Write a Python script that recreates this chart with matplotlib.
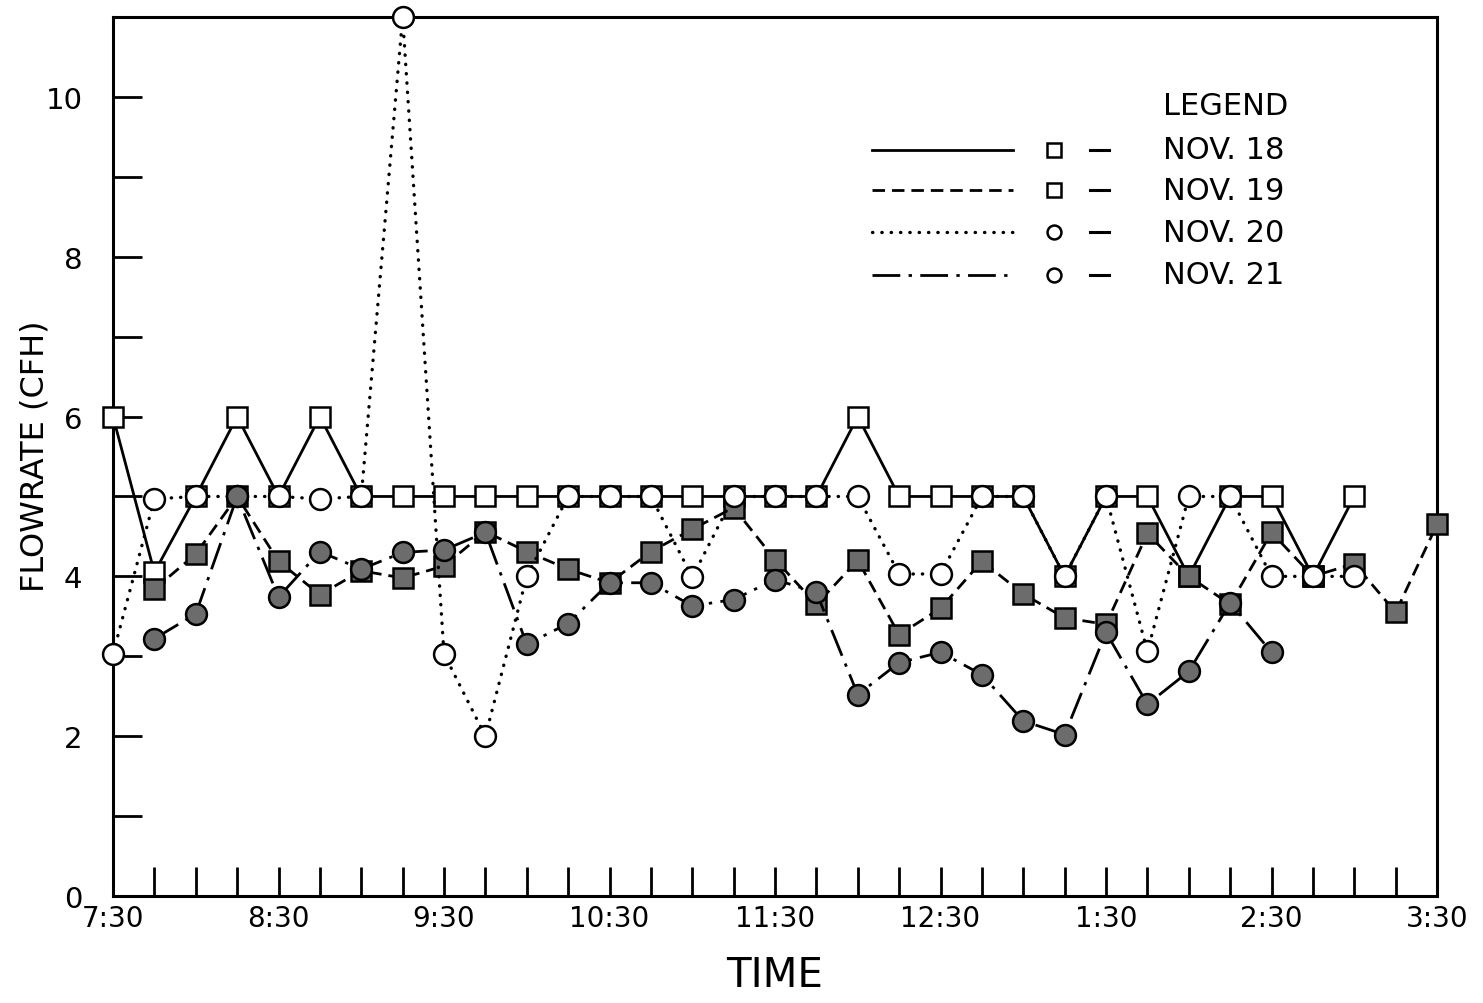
import matplotlib.pyplot as plt
from matplotlib.ticker import MultipleLocator
import numpy as np

# ---------------------------------------------------------
# Data: flowrate readings every 15 minutes (CFH)
# ---------------------------------------------------------
clock = ['7:30', '7:45', '8:00', '8:15', '8:30', '8:45', '9:00', '9:15',
         '9:30', '9:45', '10:00', '10:15', '10:30', '10:45', '11:00', '11:15',
         '11:30', '11:45', '12:00', '12:15', '12:30', '12:45', '1:00', '1:15',
         '1:30', '1:45', '2:00', '2:15', '2:30', '2:45', '3:00', '3:15', '3:30']

nov18_times = clock[0:31]
nov18_flow = [6.0, 4.05, 5.0, 6.0, 5.0, 6.0, 5.0, 5.0, 5.0, 5.0, 5.0,
              5.0, 5.0, 5.0, 5.0, 5.0, 5.0, 5.0, 6.0, 5.0, 5.0, 5.0,
              5.0, 4.0, 5.0, 5.0, 4.0, 5.0, 5.0, 4.0, 5.0]

nov19_times = clock[1:33]
nov19_flow = [3.84, 4.28, 5.0, 4.19, 3.77, 4.07, 3.98, 4.13, 4.56, 4.31,
              4.09, 3.92, 4.31, 4.59, 4.86, 4.21, 3.65, 4.2, 3.27, 3.6,
              4.19, 3.78, 3.48, 3.4, 4.54, 4.0, 3.65, 4.55, 4.0, 4.16,
              3.55, 4.65]

nov20_times = clock[0:31]
nov20_flow = [3.03, 4.97, 5.0, 5.0, 5.0, 4.97, 5.0, 11.0, 3.03, 2.0, 4.0,
              5.0, 5.0, 5.0, 3.99, 5.0, 5.0, 5.0, 5.0, 4.03, 4.03, 5.0,
              5.0, 4.0, 5.0, 3.06, 5.0, 5.0, 4.0, 4.0, 4.0]

nov21_times = clock[1:29]
nov21_flow = [3.22, 3.53, 5.0, 3.74, 4.31, 4.09, 4.3, 4.33, 4.55, 3.15,
              3.41, 3.92, 3.92, 3.63, 3.71, 3.96, 3.8, 2.52, 2.92, 3.05,
              2.77, 2.19, 2.02, 3.3, 2.4, 2.81, 3.67, 3.05]

tick_labels = ['7:30', '8:30', '9:30', '10:30', '11:30', '12:30', '1:30', '2:30', '3:30']
legend_labels = ['NOV. 18', 'NOV. 19', 'NOV. 20', 'NOV. 21']


def to_hours(s):
    h, m = map(int, s.split(':'))
    if h < 7:
        h += 12
    return h + m / 60.0


gray = '#6c6c6c'
lw = 2.0

styles = [
    dict(ls='-', lw=lw, cap='butt', marker='s', mfc='white'),
    dict(ls=(0, (4.5, 2.5)), lw=lw, cap='butt', marker='s', mfc=gray),
    dict(ls=(0, (0.1, 2.7)), lw=2.4, cap='round', marker='o', mfc='white'),
    dict(ls=(0, (10, 3, 1.2, 3)), lw=lw, cap='butt', marker='o', mfc=gray),
]
series = [(nov18_times, nov18_flow), (nov19_times, nov19_flow),
          (nov20_times, nov20_flow), (nov21_times, nov21_flow)]

# ---------------------------------------------------------
# Plot
# ---------------------------------------------------------
fig = plt.figure(figsize=(14.83, 10.04), dpi=100)
ax = fig.add_axes([0.0762, 0.1066, 0.8928, 0.8754])

zorders = [3, 4, 5, 6]
for (t, v), st, z in zip(series, styles, zorders):
    x = [to_hours(s) for s in t]
    ax.plot(x, v, color='black', lw=st['lw'], linestyle=st['ls'],
            dash_capstyle=st['cap'], marker=st['marker'],
            markersize=15, markerfacecolor=st['mfc'], markeredgecolor='black',
            markeredgewidth=1.8, zorder=z, clip_on=False)

ax.set_xlim(7.5, 15.5)
ax.set_ylim(0, 11)

ax.set_xticks([to_hours(s) for s in tick_labels])
ax.set_xticklabels(tick_labels)
ax.xaxis.set_minor_locator(MultipleLocator(0.25))
ax.set_yticks(np.arange(0, 11, 2))
ax.set_yticks([1, 3, 5, 7, 9], minor=True)

ax.tick_params(which='both', direction='in', length=21, width=2.0,
               top=False, right=False)
ax.tick_params(axis='x', labelsize=20, pad=6)
ax.tick_params(axis='y', labelsize=21, pad=22)

for sp in ax.spines.values():
    sp.set_linewidth(2.2)

ax.set_xlabel('TIME', fontsize=29, labelpad=16)
ax.set_ylabel('FLOWRATE (CFH)', fontsize=23)
ax.yaxis.set_label_coords(-0.059, 0.502)
ax.yaxis.label.set_verticalalignment('center')

# ---------------------------------------------------------
# Hand-drawn style legend
# ---------------------------------------------------------
ax.text(0.793, 0.899, 'LEGEND', transform=ax.transAxes, fontsize=22,
        ha='left', va='center')
row_y = [0.849, 0.803, 0.755, 0.707]
for yy, st, lab in zip(row_y, styles, legend_labels):
    ax.plot([0.573, 0.680], [yy, yy], transform=ax.transAxes, color='black',
            lw=st['lw'], linestyle=st['ls'], dash_capstyle=st['cap'])
    ax.plot([0.711], [yy], transform=ax.transAxes, marker=st['marker'],
            markersize=10, markerfacecolor='white', markeredgecolor='black',
            markeredgewidth=1.8, linestyle='none')
    ax.plot([0.738, 0.752], [yy, yy], transform=ax.transAxes, color='black', lw=2.2)
    ax.text(0.793, yy, lab, transform=ax.transAxes, fontsize=22,
            ha='left', va='center')

fig.savefig('out.png', dpi=100)
